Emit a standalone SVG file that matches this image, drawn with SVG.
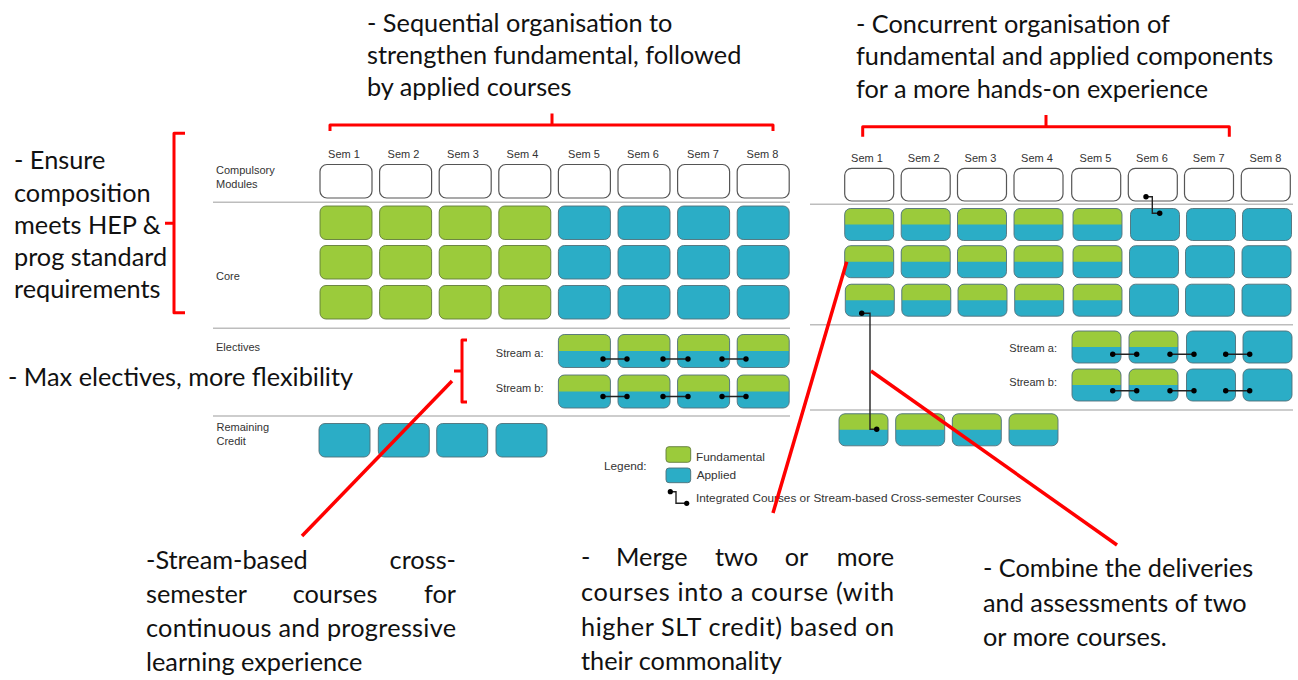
<svg xmlns="http://www.w3.org/2000/svg" xmlns:xlink="http://www.w3.org/1999/xlink" width="1298" height="680" viewBox="0 0 1298 680">
<style>
.ann{font-family:Lato,"Liberation Sans",sans-serif;font-size:25.3px;fill:#111}
.lbl{font-family:"Liberation Sans",Arial,sans-serif;font-size:11px;fill:#333}
.leg{font-family:"Liberation Sans",Arial,sans-serif;font-size:11.8px;fill:#333}
.sem{font-family:"Liberation Sans",Arial,sans-serif;font-size:11px;fill:#333;text-anchor:middle}
.cmp{fill:#fff;stroke:#555;stroke-width:1.2}
.g{fill:#9BCB3B;stroke:#617a3a;stroke-width:0.9}
.b{fill:#2BADC6;stroke:#4f6f78;stroke-width:0.9}
.sep{stroke:#bdbdbd;stroke-width:1.6}
.red{fill:none;stroke:#ff0000;stroke-width:3;stroke-linejoin:round}
.redl{stroke:#ff0000;stroke-width:3.5}
.con{fill:none;stroke:#222;stroke-width:1.4}
.dot{fill:#000}
</style>
<defs>
<g id="sL"><rect width="52" height="33" rx="6" fill="#2BADC6"/><path d="M0,16.5 V6 A6,6 0 0 1 6,0 H46 A6,6 0 0 1 52,6 V16.5 Z" fill="#9BCB3B"/><rect width="52" height="33" rx="6" fill="none" stroke="#56707a" stroke-width="0.9"/></g>
<g id="sR"><rect width="49" height="32" rx="6" fill="#2BADC6"/><path d="M0,16 V6 A6,6 0 0 1 6,0 H43 A6,6 0 0 1 49,6 V16 Z" fill="#9BCB3B"/><rect width="49" height="32" rx="6" fill="none" stroke="#56707a" stroke-width="0.9"/></g>
</defs>

<!-- Annotations text -->
<g id="ann-sequential">
<text class="ann" x="367" y="31.5">- Sequential organisation to</text>
<text class="ann" x="367" y="64">strengthen fundamental, followed</text>
<text class="ann" x="367" y="95.5">by applied courses</text>
</g>
<g id="ann-concurrent">
<text class="ann" x="856" y="33">- Concurrent organisation of</text>
<text class="ann" x="856" y="65">fundamental and applied components</text>
<text class="ann" x="856" y="97.5">for a more hands-on experience</text>
</g>
<g id="ann-ensure">
<text class="ann" x="14" y="169">- Ensure</text>
<text class="ann" x="14" y="201.5">composition</text>
<text class="ann" x="14" y="234">meets HEP &amp;</text>
<text class="ann" x="14" y="266">prog standard</text>
<text class="ann" x="14" y="298">requirements</text>
</g>
<g id="ann-electives">
<text class="ann" x="8" y="385.5">- Max electives, more flexibility</text>
</g>
<g id="ann-stream">
<text class="ann" x="146" y="569">-Stream-based</text>
<text class="ann" x="456" y="569" text-anchor="end">cross-</text>
<text class="ann" x="146" y="603">semester</text>
<text class="ann" x="335" y="603" text-anchor="middle">courses</text>
<text class="ann" x="456" y="603" text-anchor="end">for</text>
<text class="ann" x="146" y="637" textLength="310" lengthAdjust="spacing">continuous and progressive</text>
<text class="ann" x="146" y="671">learning experience</text>
</g>
<g id="ann-merge">
<text class="ann" x="581" y="566">-</text>
<text class="ann" x="616" y="566">Merge</text>
<text class="ann" x="736.5" y="566" text-anchor="middle">two</text>
<text class="ann" x="796.5" y="566" text-anchor="middle">or</text>
<text class="ann" x="894" y="566" text-anchor="end">more</text>
<text class="ann" x="581" y="601" textLength="313" lengthAdjust="spacing">courses into a course (with</text>
<text class="ann" x="581" y="636" textLength="313" lengthAdjust="spacing">higher SLT credit) based on</text>
<text class="ann" x="581" y="670">their commonality</text>
</g>
<g id="ann-combine">
<text class="ann" x="983" y="577">- Combine the deliveries</text>
<text class="ann" x="983" y="612">and assessments of two</text>
<text class="ann" x="983" y="646">or more courses.</text>
</g>

<!-- Left diagram -->
<g id="left-labels">
<text class="sem" x="344" y="157.5">Sem 1</text>
<text class="sem" x="403.5" y="157.5">Sem 2</text>
<text class="sem" x="463" y="157.5">Sem 3</text>
<text class="sem" x="522.5" y="157.5">Sem 4</text>
<text class="sem" x="584" y="157.5">Sem 5</text>
<text class="sem" x="643" y="157.5">Sem 6</text>
<text class="sem" x="703" y="157.5">Sem 7</text>
<text class="sem" x="762.5" y="157.5">Sem 8</text>
<text class="lbl" x="216" y="174">Compulsory</text>
<text class="lbl" x="216" y="187.5">Modules</text>
<text class="lbl" x="216" y="280">Core</text>
<text class="lbl" x="216" y="350.5">Electives</text>
<text class="lbl" x="543.5" y="357" text-anchor="end">Stream a:</text>
<text class="lbl" x="543.5" y="392" text-anchor="end">Stream b:</text>
<text class="lbl" x="216.5" y="431">Remaining</text>
<text class="lbl" x="216.5" y="444.5">Credit</text>
</g>
<g id="left-separators">
<line class="sep" x1="213" y1="202.3" x2="790" y2="202.3"/>
<line class="sep" x1="213" y1="328.3" x2="790" y2="328.3"/>
<line class="sep" x1="213" y1="416" x2="790" y2="416"/>
</g>
<g id="left-compulsory">
<rect class="cmp" x="320" y="164.5" width="52" height="33.5" rx="7"/>
<rect class="cmp" x="379.6" y="164.5" width="52" height="33.5" rx="7"/>
<rect class="cmp" x="439.2" y="164.5" width="52" height="33.5" rx="7"/>
<rect class="cmp" x="498.8" y="164.5" width="52" height="33.5" rx="7"/>
<rect class="cmp" x="558.4" y="164.5" width="52" height="33.5" rx="7"/>
<rect class="cmp" x="618" y="164.5" width="52" height="33.5" rx="7"/>
<rect class="cmp" x="677.6" y="164.5" width="52" height="33.5" rx="7"/>
<rect class="cmp" x="737.2" y="164.5" width="52" height="33.5" rx="7"/>
</g>
<g id="left-core">
<rect class="g" x="320" y="206" width="52" height="33.5" rx="6"/>
<rect class="g" x="379.6" y="206" width="52" height="33.5" rx="6"/>
<rect class="g" x="439.2" y="206" width="52" height="33.5" rx="6"/>
<rect class="g" x="498.8" y="206" width="52" height="33.5" rx="6"/>
<rect class="b" x="558.4" y="206" width="52" height="33.5" rx="6"/>
<rect class="b" x="618" y="206" width="52" height="33.5" rx="6"/>
<rect class="b" x="677.6" y="206" width="52" height="33.5" rx="6"/>
<rect class="b" x="737.2" y="206" width="52" height="33.5" rx="6"/>
<rect class="g" x="320" y="245.5" width="52" height="33.5" rx="6"/>
<rect class="g" x="379.6" y="245.5" width="52" height="33.5" rx="6"/>
<rect class="g" x="439.2" y="245.5" width="52" height="33.5" rx="6"/>
<rect class="g" x="498.8" y="245.5" width="52" height="33.5" rx="6"/>
<rect class="b" x="558.4" y="245.5" width="52" height="33.5" rx="6"/>
<rect class="b" x="618" y="245.5" width="52" height="33.5" rx="6"/>
<rect class="b" x="677.6" y="245.5" width="52" height="33.5" rx="6"/>
<rect class="b" x="737.2" y="245.5" width="52" height="33.5" rx="6"/>
<rect class="g" x="320" y="285.5" width="52" height="33.5" rx="6"/>
<rect class="g" x="379.6" y="285.5" width="52" height="33.5" rx="6"/>
<rect class="g" x="439.2" y="285.5" width="52" height="33.5" rx="6"/>
<rect class="g" x="498.8" y="285.5" width="52" height="33.5" rx="6"/>
<rect class="b" x="558.4" y="285.5" width="52" height="33.5" rx="6"/>
<rect class="b" x="618" y="285.5" width="52" height="33.5" rx="6"/>
<rect class="b" x="677.6" y="285.5" width="52" height="33.5" rx="6"/>
<rect class="b" x="737.2" y="285.5" width="52" height="33.5" rx="6"/>
</g>
<g id="left-electives">
<use xlink:href="#sL" x="558.4" y="334.5"/>
<use xlink:href="#sL" x="618" y="334.5"/>
<use xlink:href="#sL" x="677.6" y="334.5"/>
<use xlink:href="#sL" x="737.2" y="334.5"/>
<use xlink:href="#sL" x="558.4" y="375"/>
<use xlink:href="#sL" x="618" y="375"/>
<use xlink:href="#sL" x="677.6" y="375"/>
<use xlink:href="#sL" x="737.2" y="375"/>
</g>
<g id="left-remaining">
<rect class="b" x="319" y="423.5" width="51" height="33.5" rx="6"/>
<rect class="b" x="378.3" y="423.5" width="51" height="33.5" rx="6"/>
<rect class="b" x="436.7" y="423.5" width="51" height="33.5" rx="6"/>
<rect class="b" x="496" y="423.5" width="51" height="33.5" rx="6"/>
</g>

<!-- Right diagram -->
<g id="right-labels">
<text class="sem" x="867" y="161.5">Sem 1</text>
<text class="sem" x="923.7" y="161.5">Sem 2</text>
<text class="sem" x="980.5" y="161.5">Sem 3</text>
<text class="sem" x="1037" y="161.5">Sem 4</text>
<text class="sem" x="1095.5" y="161.5">Sem 5</text>
<text class="sem" x="1152" y="161.5">Sem 6</text>
<text class="sem" x="1208.7" y="161.5">Sem 7</text>
<text class="sem" x="1265.5" y="161.5">Sem 8</text>
<text class="lbl" x="1057" y="352" text-anchor="end">Stream a:</text>
<text class="lbl" x="1057" y="386" text-anchor="end">Stream b:</text>
</g>
<g id="right-separators">
<line class="sep" x1="810" y1="204.3" x2="1293" y2="204.3"/>
<line class="sep" x1="810" y1="324.7" x2="1293" y2="324.7"/>
<line class="sep" x1="810" y1="410" x2="1293" y2="410"/>
</g>
<g id="right-compulsory">
<rect class="cmp" x="844.7" y="168.3" width="49" height="32.7" rx="7"/>
<rect class="cmp" x="901.2" y="168.3" width="49" height="32.7" rx="7"/>
<rect class="cmp" x="957.5" y="168.3" width="49" height="32.7" rx="7"/>
<rect class="cmp" x="1014" y="168.3" width="49" height="32.7" rx="7"/>
<rect class="cmp" x="1071.7" y="168.3" width="49" height="32.7" rx="7"/>
<rect class="cmp" x="1128.3" y="168.3" width="49" height="32.7" rx="7"/>
<rect class="cmp" x="1184.5" y="168.3" width="49" height="32.7" rx="7"/>
<rect class="cmp" x="1241.3" y="168.3" width="49" height="32.7" rx="7"/>
</g>
<g id="right-core">
<use xlink:href="#sR" x="844.7" y="208.5"/>
<use xlink:href="#sR" x="901.2" y="208.5"/>
<use xlink:href="#sR" x="957.5" y="208.5"/>
<use xlink:href="#sR" x="1014" y="208.5"/>
<use xlink:href="#sR" x="1073" y="208.5"/>
<rect class="b" x="1130.5" y="208.5" width="49" height="32" rx="6"/>
<rect class="b" x="1186.5" y="208.5" width="49" height="32" rx="6"/>
<rect class="b" x="1242.5" y="208.5" width="49" height="32" rx="6"/>
<use xlink:href="#sR" x="844.7" y="245.7"/>
<use xlink:href="#sR" x="901.2" y="245.7"/>
<use xlink:href="#sR" x="957.5" y="245.7"/>
<use xlink:href="#sR" x="1014" y="245.7"/>
<use xlink:href="#sR" x="1073" y="245.7"/>
<rect class="b" x="1129.5" y="245.7" width="49" height="32" rx="6"/>
<rect class="b" x="1185.5" y="245.7" width="49" height="32" rx="6"/>
<rect class="b" x="1242" y="245.7" width="49" height="32" rx="6"/>
<use xlink:href="#sR" x="845.3" y="284.2"/>
<use xlink:href="#sR" x="901.8" y="284.2"/>
<use xlink:href="#sR" x="958" y="284.2"/>
<use xlink:href="#sR" x="1014.7" y="284.2"/>
<use xlink:href="#sR" x="1073" y="284.2"/>
<rect class="b" x="1129.5" y="284.2" width="49" height="32" rx="6"/>
<rect class="b" x="1185.5" y="284.2" width="49" height="32" rx="6"/>
<rect class="b" x="1242" y="284.2" width="49" height="32" rx="6"/>
</g>
<g id="right-electives">
<use xlink:href="#sR" x="1072" y="331"/>
<use xlink:href="#sR" x="1129" y="331"/>
<rect class="b" x="1186.5" y="331" width="49" height="32" rx="6"/>
<rect class="b" x="1243" y="331" width="49" height="32" rx="6"/>
<use xlink:href="#sR" x="1072" y="369"/>
<use xlink:href="#sR" x="1129" y="369"/>
<rect class="b" x="1186.5" y="369" width="49" height="32" rx="6"/>
<rect class="b" x="1243" y="369" width="49" height="32" rx="6"/>
</g>
<g id="right-merged">
<use xlink:href="#sR" x="839" y="413.8"/>
<use xlink:href="#sR" x="895.7" y="413.8"/>
<use xlink:href="#sR" x="952.3" y="413.8"/>
<use xlink:href="#sR" x="1009" y="413.8"/>
</g>

<!-- Legend -->
<g id="legend">
<text class="leg" x="604" y="470">Legend:</text>
<rect class="g" x="666" y="446.7" width="24.7" height="15.6" rx="3"/>
<rect class="b" x="666" y="468" width="24.7" height="14.7" rx="3"/>
<text class="leg" x="696" y="460.5">Fundamental</text>
<text class="leg" x="696.7" y="478.5">Applied</text>
<path class="con" d="M670.3,491.7 H676 V503.3 H686.7"/>
<circle class="dot" cx="670.3" cy="491.7" r="2.6"/>
<circle class="dot" cx="686.7" cy="503.3" r="2.6"/>
<text class="leg" x="696" y="501.5">Integrated Courses or Stream-based Cross-semester Courses</text>
</g>

<!-- Connectors -->
<g id="connectors">
<g id="course-links">
<path class="con" d="M603,359 H627 M663,359 H688 M722,359 H746"/>
<path class="con" d="M603,396.5 H627 M663,396.5 H688 M722,396.5 H746"/>
<g class="dot">
<circle cx="603" cy="359" r="2.7"/><circle cx="627" cy="359" r="2.7"/>
<circle cx="663" cy="359" r="2.7"/><circle cx="688" cy="359" r="2.7"/>
<circle cx="722" cy="359" r="2.7"/><circle cx="746" cy="359" r="2.7"/>
<circle cx="603" cy="396.5" r="2.7"/><circle cx="627" cy="396.5" r="2.7"/>
<circle cx="663" cy="396.5" r="2.7"/><circle cx="688" cy="396.5" r="2.7"/>
<circle cx="722" cy="396.5" r="2.7"/><circle cx="746" cy="396.5" r="2.7"/>
</g>
<path class="con" d="M1112.7,354.3 H1136.7 M1170,354.3 H1194 M1225.7,354.3 H1249.7"/>
<path class="con" d="M1112.7,390.7 H1136.7 M1170,390.7 H1194 M1225.7,390.7 H1249.7"/>
<g class="dot">
<circle cx="1112.7" cy="354.3" r="2.7"/><circle cx="1136.7" cy="354.3" r="2.7"/>
<circle cx="1170" cy="354.3" r="2.7"/><circle cx="1194" cy="354.3" r="2.7"/>
<circle cx="1225.7" cy="354.3" r="2.7"/><circle cx="1249.7" cy="354.3" r="2.7"/>
<circle cx="1112.7" cy="390.7" r="2.7"/><circle cx="1136.7" cy="390.7" r="2.7"/>
<circle cx="1170" cy="390.7" r="2.7"/><circle cx="1194" cy="390.7" r="2.7"/>
<circle cx="1225.7" cy="390.7" r="2.7"/><circle cx="1249.7" cy="390.7" r="2.7"/>
</g>
<path class="con" d="M1146,196.7 H1152.3 V213.3 H1159.7"/>
<circle class="dot" cx="1146" cy="196.7" r="2.7"/><circle class="dot" cx="1159.7" cy="213.3" r="2.7"/>
<path class="con" d="M861.7,313.3 H870 V429.3 H876.7"/>
<circle class="dot" cx="861.7" cy="313.3" r="2.7"/><circle class="dot" cx="876.7" cy="429.3" r="2.7"/>
</g>
<g id="brackets">
<path class="red" d="M330,131 V125 H773 V131 M552,125 V113.5"/>
<path class="red" d="M862.7,136.7 V126.7 H1229.3 V136.7 M1046,126.7 V115"/>
<path class="red" d="M185,133.3 H174 V312.7 H185 M174,223.3 H165"/>
<path class="red" d="M467,340 H462 V402 H467 M462,371 H454"/>
</g>
<g id="pointer-lines">
<line class="redl" x1="302" y1="536" x2="452" y2="381"/>
<line class="redl" x1="773" y1="513" x2="846.7" y2="261.7"/>
<line class="redl" x1="1117" y1="545" x2="871" y2="371"/>
</g>
</g>
</svg>
